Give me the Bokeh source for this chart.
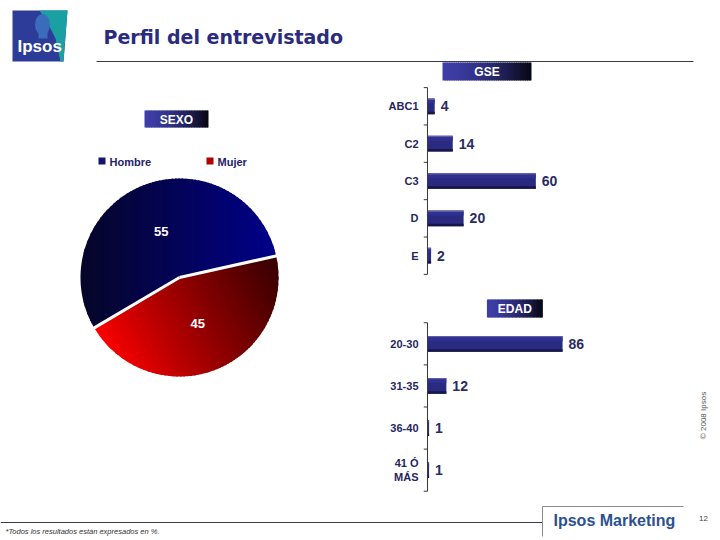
import math
from bokeh.plotting import figure
from bokeh.layouts import column, row
from bokeh.models import ColumnDataSource, Range1d, FactorRange
from bokeh.transform import dodge
from bokeh.embed import file_html
from bokeh.resources import INLINE
from bokeh.core.properties import value

# ---------------- data ----------------
TITLE = "Perfil del entrevistado"
sexo_labels = ["Hombre", "Mujer"]
sexo_values = [55, 45]
gse_cats = ["ABC1", "C2", "C3", "D", "E"]
gse_values = [4, 14, 60, 20, 2]
edad_cats = ["20-30", "31-35", "36-40", "41 Ó\nMÁS"]
edad_values = [86, 12, 1, 1]
FOOTNOTE = "*Todos los resultados están expresados en %."
COPYRIGHT = "© 2008 Ipsos"
PAGE_NO = "12"

NAVY_TXT = "#2b2b7e"
LABEL_TXT = "#26265e"
AR = "Liberation Sans"


def hexc(c):
    return "#%02x%02x%02x" % tuple(max(0, min(255, int(round(v)))) for v in c)


def lerp(c0, c1, t):
    return hexc([c0[i] + (c1[i] - c0[i]) * t for i in range(3)])


def canvas(w, h, x0, y0):
    p = figure(width=w, height=h, x_range=Range1d(x0, x0 + w), y_range=Range1d(y0 + h, y0),
               x_axis_location=None, y_axis_location=None, toolbar_location=None,
               output_backend="svg", min_border=0)
    p.xgrid.visible = False
    p.ygrid.visible = False
    p.outline_line_color = None
    return p


def txt(p, x, y, s, size, color, style="normal", align="left", font=AR, angle=0.0):
    p.text(x=[x], y=[y], text=[s], text_font=value(font), text_font_size=size,
           text_font_style=style, text_color=color, text_align=align,
           text_baseline="middle", angle=angle)


def grad_box(p, x0, x1, y0, y1, label, n=40):
    lefts, rights, cols = [], [], []
    step = (x1 - x0) / n
    for k in range(n):
        t = (k + 0.5) / n
        w = t ** 1.6
        lefts.append(x0 + step * k)
        rights.append(min(x1, x0 + step * (k + 1) + 1.0))
        cols.append(lerp((62, 62, 168), (6, 6, 18), w))
    p.quad(left=lefts, right=rights, top=[y0] * n, bottom=[y1] * n,
           fill_color=cols, line_color=None)
    txt(p, (x0 + x1) / 2, (y0 + y1) / 2 + 0.5, label, "12px", "white", "bold", "center")


# ---------------- header ----------------
header = canvas(720, 86, 0, 0)
header.patch(x=[12, 67, 63, 12], y=[10, 10, 61, 61], fill_color="#2c3c98", line_color=None)
header.patch(x=[39, 67, 63, 60, 55, 47], y=[10, 10, 61, 61, 38, 22], fill_color="#1aa0a2", line_color=None)
header.ellipse(x=[42], y=[24], width=[15], height=[21], fill_color="#3b6cbc", line_color=None)
header.quad(left=[38], right=[47], top=[30], bottom=[38], fill_color="#3b6cbc", line_color=None)
txt(header, 17, 46, "Ipsos", "17px", "white", "bold")
txt(header, 103, 36, TITLE, "19px", NAVY_TXT, "bold", font="DejaVu Sans")
header.segment(x0=[96], x1=[693], y0=[61], y1=[61], line_color="#3c3c4c", line_width=1)
grad_box(header, 442, 531, 62, 80, "GSE")

# ---------------- left: SEXO pie ----------------
left = canvas(372, 414, 0, 86)
grad_box(left, 144, 208, 110, 127, "SEXO")

leg_cols = ["#14146e", "#b00000"]
leg_x = [98, 206]
for lab, c, lx in zip(sexo_labels, leg_cols, leg_x):
    left.quad(left=[lx], right=[lx + 7], top=[157], bottom=[164], fill_color=c, line_color=None)
    txt(left, lx + 11, 161, lab, "11px", "#22226a", "bold")

CX, CY, R = 179, 277, 99
START = 12.6


def wedge_poly(a0, a1, n=160):
    pts = [(CX, CY)]
    for k in range(n + 1):
        a = math.radians(a0 + (a1 - a0) * k / n)
        pts.append((CX + R * math.cos(a), CY - R * math.sin(a)))
    return pts


def clip(poly, d, t0, keep_ge):
    out = []
    for i in range(len(poly)):
        cur, prev = poly[i], poly[i - 1]
        vc = cur[0] * d[0] + cur[1] * d[1]
        vp = prev[0] * d[0] + prev[1] * d[1]
        cin = vc >= t0 if keep_ge else vc <= t0
        pin = vp >= t0 if keep_ge else vp <= t0
        if cin != pin:
            s = (t0 - vp) / (vc - vp)
            out.append((prev[0] + s * (cur[0] - prev[0]), prev[1] + s * (cur[1] - prev[1])))
        if cin:
            out.append(cur)
    return out


grads = [((1.0, 0.0), (6, 6, 40), (0, 0, 138), 1.0),
         ((1.0, -0.55), (255, 0, 0), (52, 0, 0), 0.9)]
total = float(sum(sexo_values))
angle = START
bounds = []
mids = []
for v, (d, c0, c1, gam) in zip(sexo_values, grads):
    span = v / total * 360.0
    a0, a1 = angle, angle + span
    bounds.append(a0)
    mids.append((a0 + a1) / 2)
    angle = a1
    nrm = math.hypot(*d)
    d = (d[0] / nrm, d[1] / nrm)
    poly = wedge_poly(a0, a1)
    ts = [x * d[0] + y * d[1] for x, y in poly]
    tmin, tmax = min(ts), max(ts)
    N = 60
    xs, ys, cols = [], [], []
    for k in range(N):
        ta = tmin + (tmax - tmin) * k / N
        tb = tmin + (tmax - tmin) * (k + 1) / N + 1.5
        pc = clip(clip(poly, d, ta, True), d, tb, False)
        if len(pc) >= 3:
            xs.append([q[0] for q in pc])
            ys.append([q[1] for q in pc])
            cols.append(lerp(c0, c1, ((k + 0.5) / N) ** gam))
    left.patches(xs, ys, fill_color=cols, line_color=None)

for a in bounds:
    ar = math.radians(a)
    left.segment(x0=[CX], y0=[CY], x1=[CX + (R + 1) * math.cos(ar)], y1=[CY - (R + 1) * math.sin(ar)],
                 line_color="white", line_width=3)
for v, m in zip(sexo_values, mids):
    mr = math.radians(m)
    txt(left, CX + 0.5 * R * math.cos(mr), CY - 0.5 * R * math.sin(mr), str(v), "13px", "white", "bold", "center")


# ---------------- bar charts ----------------
def bar_chart(cats, vals, w, h, x_start, x_end, bl, bt, bb, bar_h):
    rng = FactorRange(factors=list(reversed(cats)), range_padding=0.03, range_padding_units="absolute")
    p = figure(width=w, height=h, x_range=Range1d(x_start, x_end), y_range=rng,
               x_axis_location=None, toolbar_location=None, output_backend="svg",
               min_border_left=bl, min_border_right=0, min_border_top=bt, min_border_bottom=bb)
    p.xgrid.visible = False
    p.ygrid.visible = False
    p.outline_line_color = None
    ax = p.yaxis[0]
    ax.axis_line_color = None
    ax.major_tick_line_color = None
    ax.major_tick_in = 0
    ax.major_tick_out = 0
    ax.major_label_standoff = 5
    ax.major_label_text_font = AR
    ax.major_label_text_font_style = "bold"
    ax.major_label_text_font_size = "11px"
    ax.major_label_text_color = LABEL_TXT

    src = ColumnDataSource(dict(cat=cats, val=vals, lab=[str(v) for v in vals]))
    p.hbar(y=dodge("cat", 0, range=rng), height=bar_h, left=0, right="val", source=src,
           fill_color="#2a2a80", line_color=None)
    hs = bar_h * 0.1
    p.hbar(y=dodge("cat", bar_h / 2 - hs / 2, range=rng), height=hs, left=0, right="val", source=src,
           fill_color="#5c5cac", line_color=None)
    hm = bar_h * 0.22
    p.hbar(y=dodge("cat", bar_h / 2 - hs - hm / 2, range=rng), height=hm, left=0, right="val", source=src,
           fill_color="#303092", line_color=None)
    hd = bar_h * 0.16
    p.hbar(y=dodge("cat", -bar_h / 2 + hd / 2, range=rng), height=hd, left=0, right="val", source=src,
           fill_color="#161648", line_color=None)

    p.text(x="val", y="cat", text="lab", x_offset=6, source=src, text_baseline="middle",
           text_font=value(AR), text_font_style="bold", text_font_size="14px", text_color="#2b2b62")

    # axis line and boundary ticks
    ends = ColumnDataSource(dict(top=[cats[0]], bot=[cats[-1]]))
    p.segment(x0=0, x1=0, y0=dodge("top", 0.5, range=rng), y1=dodge("bot", -0.5, range=rng),
              source=ends, line_color="#383838", line_width=1)
    p.segment(x0=x_start, x1=0, y0=dodge("cat", 0.5, range=rng), y1=dodge("cat", 0.5, range=rng),
              source=src, line_color="#383838", line_width=1)
    p.segment(x0=x_start, x1=0, y0=dodge("bot", -0.5, range=rng), y1=dodge("bot", -0.5, range=rng),
              source=ends, line_color="#383838", line_width=1)
    return p


gse = bar_chart(gse_cats, gse_values, 308, 210, -2.2, 140.1, 49, 0, 21, 0.42)
edad_box = canvas(308, 23, 372, 296)
grad_box(edad_box, 448, 515, 299, 317, "EDAD")
edad = bar_chart(edad_cats, edad_values, 308, 181, -2.55, 161.1, 51, 2, 8, 0.375)

# ---------------- right strip ----------------
strip = canvas(40, 414, 680, 86)
txt(strip, 703, 415, COPYRIGHT, "8px", "#555555", "normal", "center", angle=math.pi / 2)

# ---------------- footer ----------------
footer = canvas(720, 40, 0, 500)
footer.segment(x0=[0], x1=[542], y0=[522], y1=[522], line_color="#3c3c4c", line_width=1)
footer.segment(x0=[542, 542], x1=[542, 683], y0=[506, 506], y1=[536, 506], line_color="#8a8a8a", line_width=1)
txt(footer, 553, 520, "Ipsos Marketing", "16px", "#2d5090", "bold")
txt(footer, 703, 518, PAGE_NO, "8px", "#444444", "normal", "center")
txt(footer, 5, 531, FOOTNOTE, "7.5px", "#333333", "italic")

layout = column(header, row(left, column(gse, edad_box, edad), strip), footer)

with open("out.html", "w") as f:
    f.write(file_html(layout, INLINE))
